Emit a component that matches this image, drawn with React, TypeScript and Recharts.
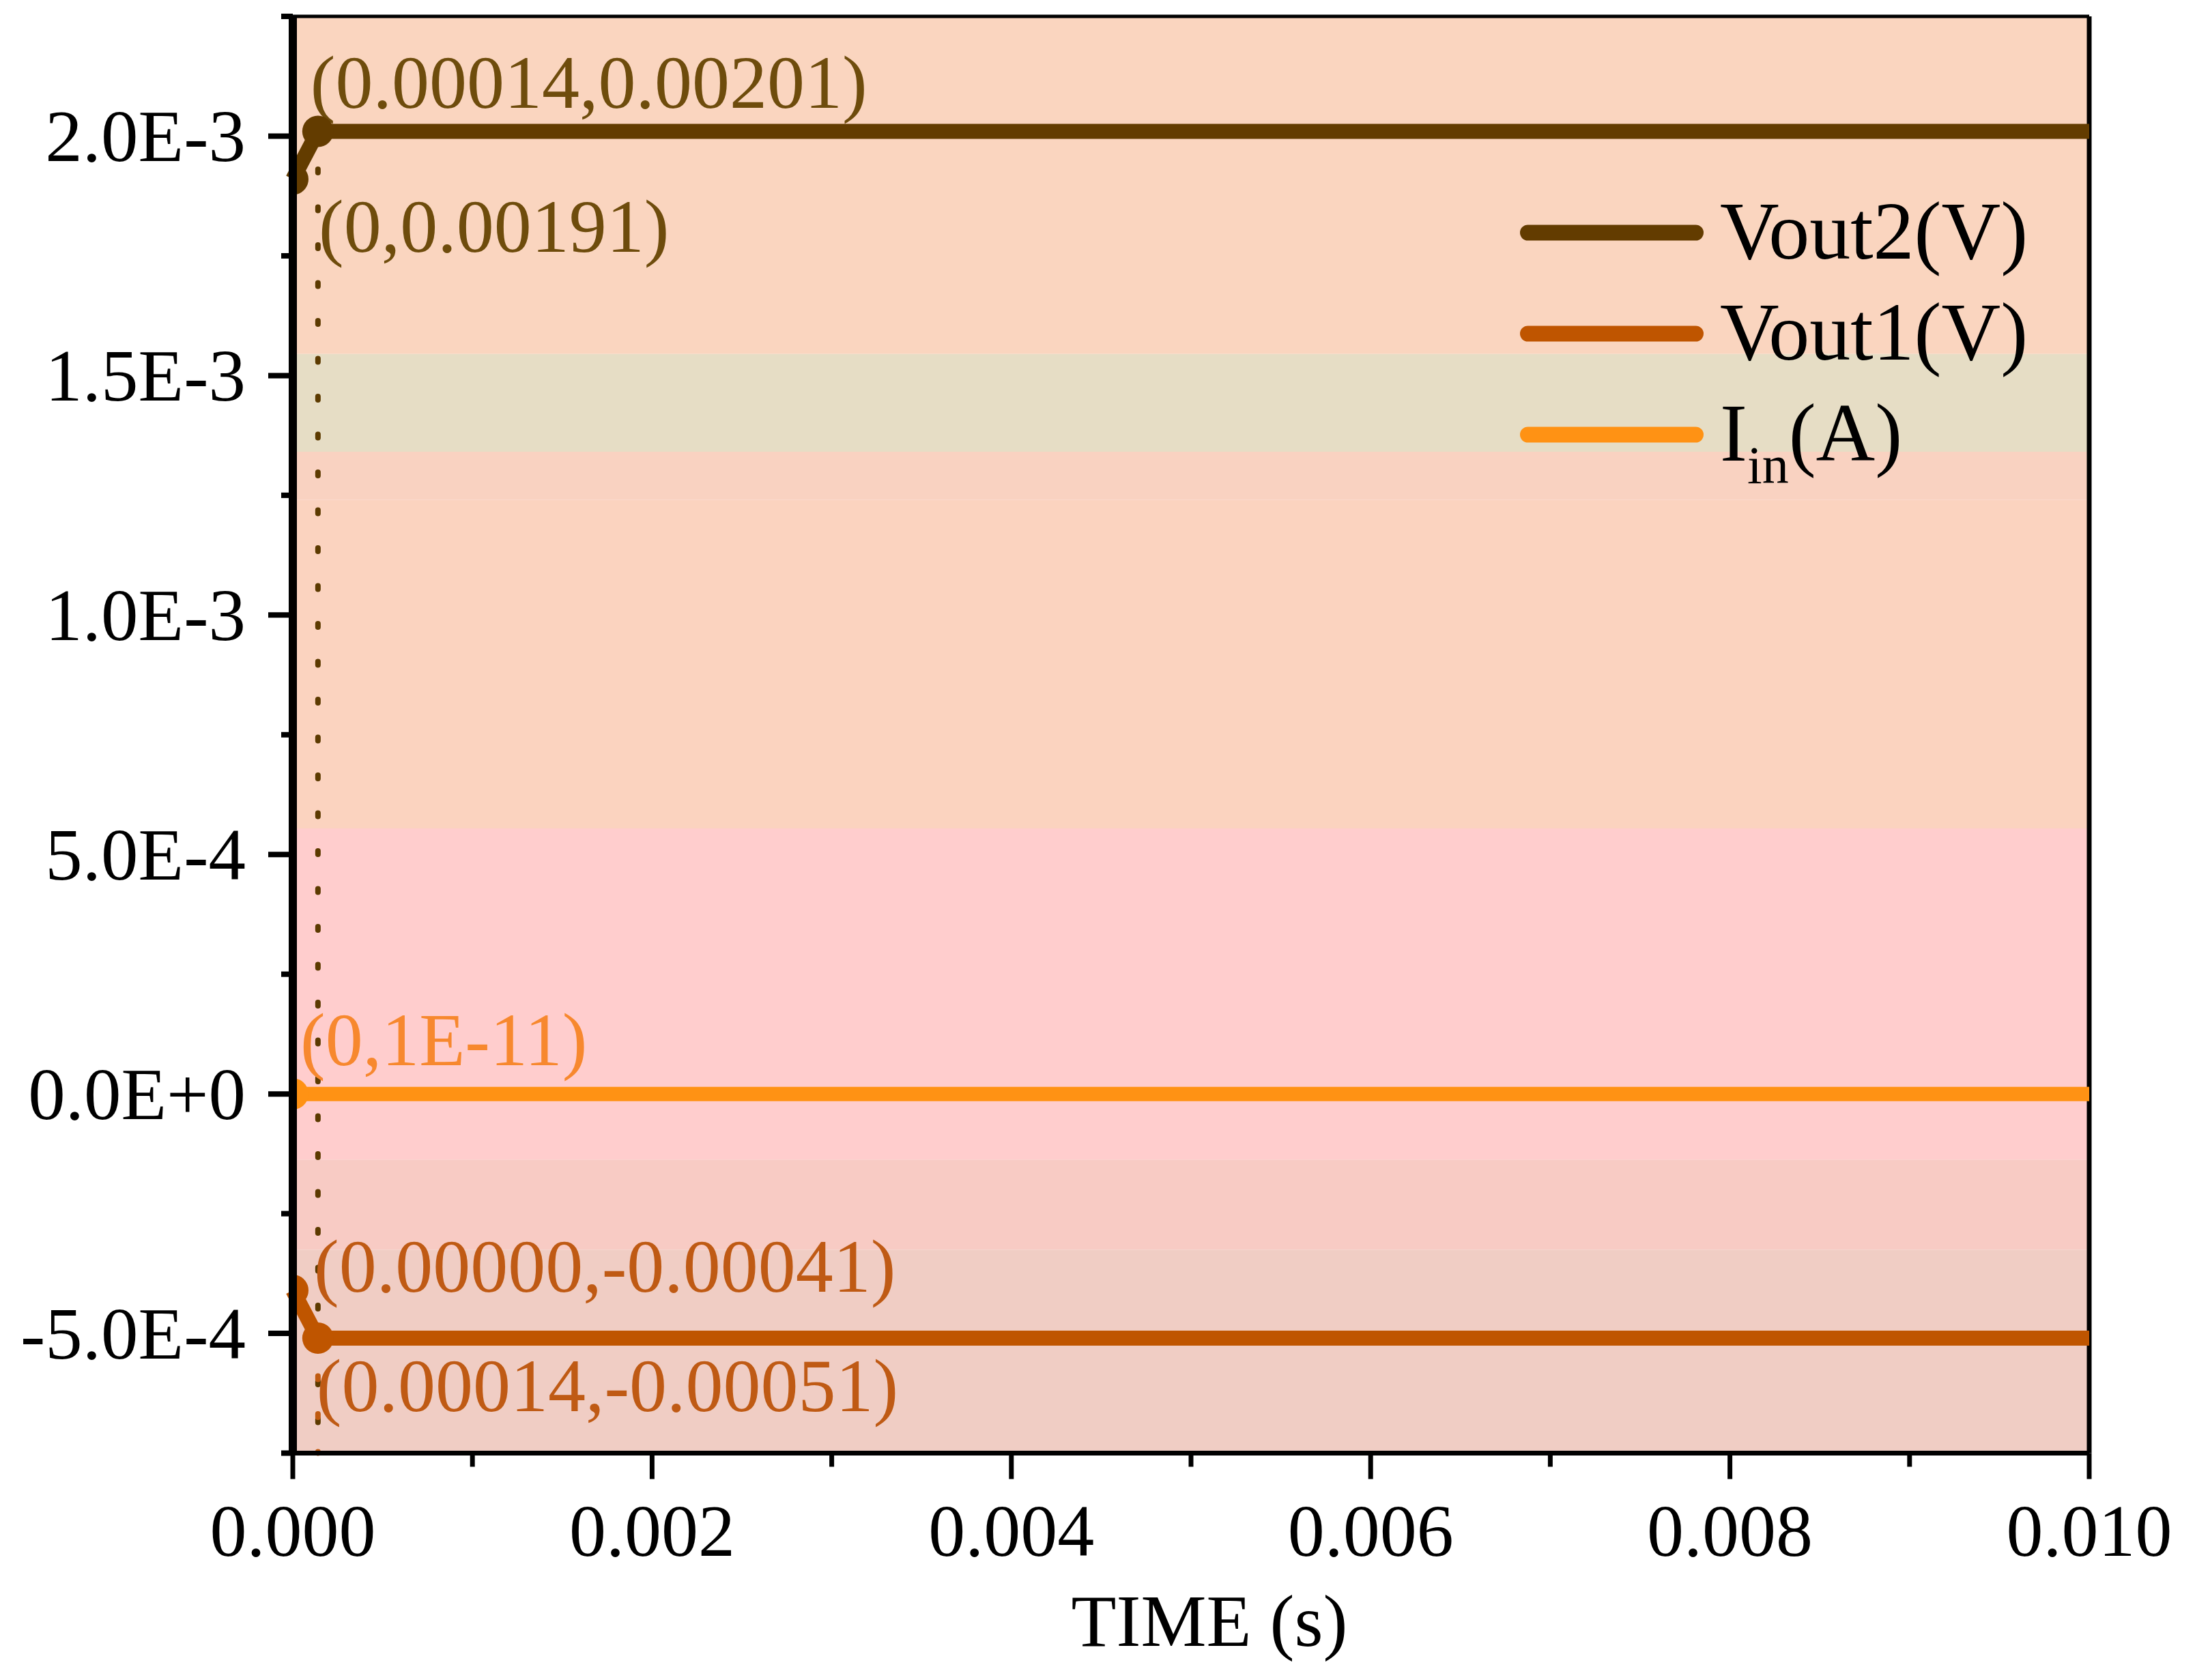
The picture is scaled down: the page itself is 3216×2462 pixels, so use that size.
import React from 'react';
import {
  LineChart,
  Line,
  XAxis,
  YAxis,
  ReferenceArea,
  ReferenceLine,
  ReferenceDot,
  Label,
  Legend,
} from 'recharts';

const FONT = "'Liberation Serif', 'Times New Roman', Times, serif";

// ---------- data ----------
const vout2Data = [
  { t: 0, v: 0.00191 },
  { t: 0.00014, v: 0.00201 },
  { t: 0.01, v: 0.00201 },
];
const vout1Data = [
  { t: 0, v: -0.00041 },
  { t: 0.00014, v: -0.00051 },
  { t: 0.01, v: -0.00051 },
];
const iinData = [
  { t: 0, v: 1e-11 },
  { t: 0.01, v: 1e-11 },
];

const xTicks = [0, 0.001, 0.002, 0.003, 0.004, 0.005, 0.006, 0.007, 0.008, 0.009, 0.01];
const yTicks = [
  -0.00075, -0.0005, -0.00025, 0, 0.00025, 0.0005, 0.00075, 0.001, 0.00125, 0.0015,
  0.00175, 0.002, 0.00225,
];
const xDomain = [0, 0.01];
const yDomain = [-0.00075, 0.00225];

// background bands (value edges, top to bottom) and their colours
const bandEdges = [0.00225, 0.001545, 0.001341, 0.00124, 0.0005545, -0.000137, -0.000325, -0.00075];
const bandColors = ['#FAD5BF', '#E6DDC5', '#F9D2C1', '#FBD3BF', '#FFCDCD', '#F8CBC4', '#F0CDC4'];

// annotations: point + text
const annotPoints = [
  { x: 0.00014, y: 0.00201, text: '(0.00014,0.00201)' },
  { x: 0, y: 0.00191, text: '(0,0.00191)' },
  { x: 0, y: 1e-11, text: '(0,1E-11)' },
  { x: 0, y: -0.00041, text: '(0.00000,-0.00041)' },
  { x: 0.00014, y: -0.00051, text: '(0.00014,-0.00051)' },
];
// style for each annotation (pixel offsets of text baseline-left from the point, colour)
const annotStyles = [
  { dx: -11, dy: -34, color: '#6E4C0C' },
  { dx: 38, dy: 106, color: '#6E4C0C' },
  { dx: 11, dy: -42, color: '#F7882E' },
  { dx: 31, dy: 2, color: '#BF5A14' },
  { dx: -2, dy: 107, color: '#BF5A14' },
];

// dotted guide lines
const guideLines = [
  { x: 0.00014, yFrom: 0.00201, yTo: -0.00075, color: '#5C3A00' },
  { x: 0.00014, yFrom: -0.00051, yTo: -0.00075, color: '#C05A10' },
];

const C_VOUT2 = '#633C00';
const C_VOUT1 = '#BF5500';
const C_IIN = '#FF9214';

const legendRows = [
  { main: 'Vout2(V)', sub: '', rest: '', color: C_VOUT2 },
  { main: 'Vout1(V)', sub: '', rest: '', color: C_VOUT1 },
  { main: 'I', sub: 'in', rest: '(A)', color: C_IIN },
];

// ---------- renderers ----------
const YTick = (props: any) => {
  const { x, y, payload } = props;
  const v = payload.value as number;
  const major = Math.round(v * 1e5) % 50 === 0;
  return (
    <g>
      <line x1={x} x2={x - (major ? 36 : 17)} y1={y} y2={y} stroke="#000" strokeWidth={8} />
      {major && (
        <text x={x - 69} y={y + 37} textAnchor="end" fontSize={109} fontFamily={FONT} fill="#000">
          {v.toExponential(1).toUpperCase()}
        </text>
      )}
    </g>
  );
};

const XTick = (props: any) => {
  const { x, y, payload } = props;
  const v = payload.value as number;
  const major = Math.round(v * 1e4) % 20 === 0;
  return (
    <g>
      <line x1={x} x2={x} y1={y} y2={y + (major ? 38 : 20)} stroke="#000" strokeWidth={7} />
      {major && (
        <text x={x} y={y + 150} textAnchor="middle" fontSize={108} fontFamily={FONT} fill="#000">
          {v.toFixed(3)}
        </text>
      )}
    </g>
  );
};

// markers on all points but the last; a marker sitting on the left frame is drawn as the
// visible right half only (the frame line covers the rest in the original)
const makeDot = (color: string, count: number, frameX: { v: number | null }) => (props: any) => {
  const { cx, cy, index, payload } = props;
  if (index >= count - 1) return <g key={`n${index}`} />;
  const r = 23;
  if (payload && payload.t === xDomain[0]) {
    const x0 = cx + 6;
    const dy = Math.sqrt(r * r - 36);
    return (
      <path
        key={`d${index}`}
        d={`M ${x0} ${cy - dy} A ${r} ${r} 0 0 1 ${x0} ${cy + dy} Z`}
        fill={color}
      />
    );
  }
  return <circle key={`d${index}`} cx={cx} cy={cy} r={r} fill={color} />;
};
const frameRef = { v: null };

const renderLegend = () => (
  <svg width={700} height={420} style={{ display: 'block', overflow: 'visible' }}>
    {legendRows.map((r, i) => {
      const cy = 61 + i * 148;
      return (
        <g key={i}>
          <line x1={38.5} x2={284.5} y1={cy} y2={cy} stroke={r.color} strokeWidth={23} strokeLinecap="round" />
          <text x={320} y={cy + 38} fontSize={120} fontFamily={FONT} fill="#000">
            {r.main}
            {r.sub ? (
              <tspan fontSize={78} dy={33}>
                {r.sub}
              </tspan>
            ) : null}
            {r.rest ? <tspan dy={r.sub ? -33 : 0}>{r.rest}</tspan> : null}
          </text>
        </g>
      );
    })}
  </svg>
);

const titleContent = (p: any) => {
  const vb = p.viewBox || { x: 421, y: 2121.5, width: 2632, height: 200 };
  return (
    <text x={vb.x + vb.width / 2 + 27} y={vb.y + 282} textAnchor="middle" fontSize={108} fontFamily={FONT} fill="#000">
      TIME (s)
    </text>
  );
};

const annotContent = (text: string, st: { dx: number; dy: number; color: string }) => (p: any) => {
  const vb = p.viewBox || { x: 0, y: 0, width: 0, height: 0 };
  const cx = vb.x + (vb.width || 0) / 2;
  const cy = vb.y + (vb.height || 0) / 2;
  return (
    <text x={cx + st.dx} y={cy + st.dy} fontSize={110} fontFamily={FONT} fill={st.color}>
      {text}
    </text>
  );
};

export default function App() {
  return (
    <div style={{ width: 3200, height: 2454, position: 'relative' }}>
      <LineChart
        width={3200}
        height={2454}
        margin={{ top: 16, right: 147, bottom: 132.5, left: 21 }}
        style={{ fontFamily: FONT }}
      >
        <XAxis
          type="number"
          dataKey="t"
          domain={xDomain}
          ticks={xTicks}
          interval={0}
          height={200}
          tickSize={0}
          tickMargin={0}
          tickLine={false}
          axisLine={{ stroke: '#000', strokeWidth: 7 }}
          tick={(p: any) => <XTick {...p} />}
        >
          <Label content={titleContent} />
        </XAxis>
        <YAxis
          type="number"
          dataKey="v"
          domain={yDomain}
          ticks={yTicks}
          interval={0}
          width={400}
          tickSize={0}
          tickMargin={0}
          tickLine={false}
          axisLine={{ stroke: '#000', strokeWidth: 12 }}
          tick={(p: any) => <YTick {...p} />}
        />
        {bandColors.map((c, i) => (
          <ReferenceArea
            key={`band${i}`}
            x1={xDomain[0]}
            x2={xDomain[1]}
            y1={bandEdges[i + 1]}
            y2={bandEdges[i]}
            fill={c}
            fillOpacity={1}
            stroke="none"
          />
        ))}
        <ReferenceLine y={yDomain[1]} stroke="#000" strokeWidth={5} />
        <ReferenceLine x={xDomain[1]} stroke="#000" strokeWidth={7} />
        {guideLines.map((g, i) => (
          <ReferenceLine
            key={`guide${i}`}
            segment={[
              { x: g.x, y: g.yFrom },
              { x: g.x, y: g.yTo },
            ]}
            stroke={g.color}
            strokeWidth={8}
            strokeDasharray="5 50.5"
            strokeLinecap="round"
          />
        ))}
        <Line
          data={iinData}
          dataKey="v"
          name="Iin(A)"
          stroke={C_IIN}
          strokeWidth={21}
          dot={makeDot(C_IIN, iinData.length, frameRef)}
          activeDot={false}
          isAnimationActive={false}
        />
        <Line
          data={vout1Data}
          dataKey="v"
          name="Vout1(V)"
          stroke={C_VOUT1}
          strokeWidth={22}
          strokeLinejoin="round"
          dot={makeDot(C_VOUT1, vout1Data.length, frameRef)}
          activeDot={false}
          isAnimationActive={false}
        />
        <Line
          data={vout2Data}
          dataKey="v"
          name="Vout2(V)"
          stroke={C_VOUT2}
          strokeWidth={22}
          strokeLinejoin="round"
          dot={makeDot(C_VOUT2, vout2Data.length, frameRef)}
          activeDot={false}
          isAnimationActive={false}
        />
        {annotPoints.map((a, i) => (
          <ReferenceDot
            key={`an${i}`}
            x={a.x}
            y={a.y}
            r={0}
            fill="none"
            stroke="none"
            label={annotContent(a.text, annotStyles[i])}
          />
        ))}
        <Legend
          layout="vertical"
          align="center"
          verticalAlign="middle"
          content={renderLegend}
          wrapperStyle={{ left: 2192, top: 272, width: 700, height: 420, right: 'auto', bottom: 'auto' }}
        />
      </LineChart>
    </div>
  );
}
